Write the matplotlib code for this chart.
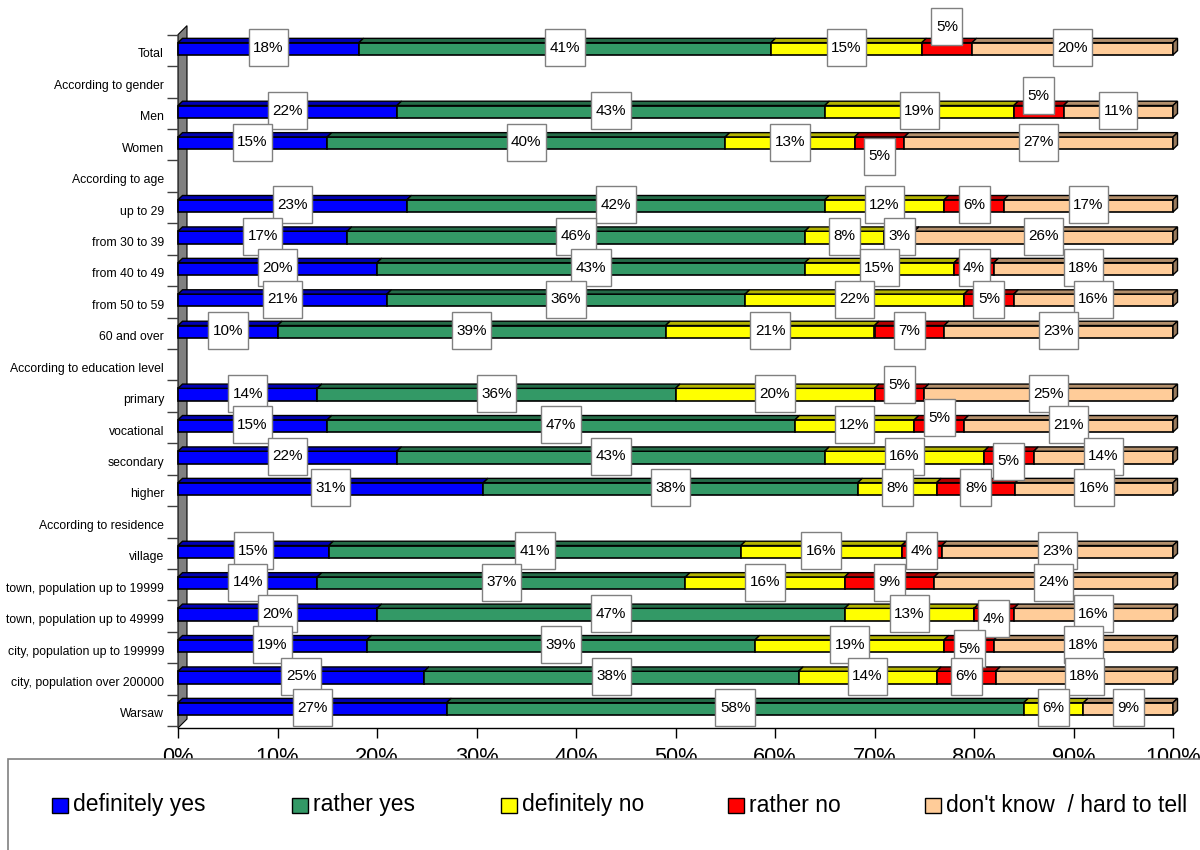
"""
Opinion poll results by social group, drawn as a 100% stacked
horizontal bar chart with a flat 3-D look (front face, top face,
right end face and a grey side wall).
"""

import numpy
from matplotlib import pyplot
from matplotlib.colors import to_rgb
from matplotlib.patches import Polygon, Rectangle
from matplotlib.transforms import ScaledTranslation

pyplot.rcParams['font.family'] = ['Liberation Sans', 'DejaVu Sans']

categories = ['Total', 'According to gender', 'Men', 'Women',
              'According to age', 'up to 29', 'from 30 to 39',
              'from 40 to 49', 'from 50 to 59', '60 and over',
              'According to education level', 'primary', 'vocational',
              'secondary', 'higher', 'According to residence', 'village',
              'town, population up to 19999', 'town, population up to 49999',
              'city, population up to 199999', 'city, population over 200000',
              'Warsaw']

answers = ['definitely yes', 'rather yes', 'definitely no', 'rather no',
           "don't know  / hard to tell"]

# one value per category, None for the section headers
definitely_yes = [18, None, 22, 15, None, 23, 17, 20, 21, 10,
                  None, 14, 15, 22, 31, None, 15, 14, 20, 19, 25, 27]
rather_yes = [41, None, 43, 40, None, 42, 46, 43, 36, 39,
              None, 36, 47, 43, 38, None, 41, 37, 47, 39, 38, 58]
definitely_no = [15, None, 19, 13, None, 12, 8, 15, 22, 21,
                 None, 20, 12, 16, 8, None, 16, 16, 13, 19, 14, 6]
rather_no = [5, None, 5, 5, None, 6, 3, 4, 5, 7,
             None, 5, 5, 5, 8, None, 4, 9, 4, 5, 6, 0]
dont_know = [20, None, 11, 27, None, 17, 26, 18, 16, 23,
             None, 25, 21, 14, 16, None, 23, 24, 16, 18, 18, 9]

colors = ['#0000ff', '#339966', '#ffff00', '#ff0000', '#ffcc99']

# labels that had to be moved off the bar (category, answer): pixels down
label_shift = {(0, 3): -22, (2, 3): -16, (3, 3): 13, (11, 3): -10,
               (12, 3): -8, (13, 3): 4, (18, 3): 4, (19, 3): 3}

series = [definitely_yes, rather_yes, definitely_no, rather_no, dont_know]

W, H = 1200, 850
DPI = 100
row_px = 31.43          # distance between two categories
face_px = 12.3          # height of the front face
depth_x, depth_y = 4.5, 4.3
wall_x, wall_y = 9.0, 9.0

fig = pyplot.figure(figsize=(W / DPI, H / DPI), dpi=DPI)
# axes placed so that 0-100 % spans x = 178..1173 px and the x-axis sits at y = 728 px
top_px, bottom_px = 10.0, 728.0
first_row_px = 48.8
ax = fig.add_axes([178 / W, 1 - bottom_px / H, 995 / W, (bottom_px - top_px) / H])
ymin = (top_px - first_row_px) / row_px
ymax = (bottom_px - first_row_px) / row_px
ax.set_xlim(0.0, 1.0)
ax.set_ylim(ymax, ymin)

dx = depth_x / 995
dy = depth_y / row_px
fh = face_px / row_px


def shade(color, factor):
    return tuple(c * factor for c in to_rgb(color))


# grey side wall behind the bars
wdx = wall_x / 995
wdy = wall_y / row_px
wall_top = -0.45
ax.add_patch(Polygon([(0, ymax), (wdx, ymax - wdy), (wdx, wall_top - wdy),
                      (0, wall_top)], closed=True, facecolor='#808080',
                     edgecolor='black', linewidth=0.8, zorder=1,
                     clip_on=False))

texts = []
for i, name in enumerate(categories):
    if definitely_yes[i] is None:
        continue
    values = numpy.array([s[i] for s in series], dtype=float)
    shares = values / values.sum()
    lefts = numpy.concatenate([[0.0], numpy.cumsum(shares)[:-1]])
    y0 = i - fh / 2
    for j, (left, width) in enumerate(zip(lefts, shares)):
        if width <= 0:
            continue
        ax.add_patch(Rectangle((left, y0), width, fh, facecolor=colors[j],
                               edgecolor='black', linewidth=1.2, zorder=3,
                               clip_on=False))
        ax.add_patch(Polygon([(left, y0), (left + width, y0),
                              (left + width + dx, y0 - dy), (left + dx, y0 - dy)],
                             closed=True, facecolor=shade(colors[j], 0.7),
                             edgecolor='black', linewidth=1.0, zorder=3,
                             clip_on=False))
        if j == len(series) - 1:
            ax.add_patch(Polygon([(1, y0), (1 + dx, y0 - dy),
                                  (1 + dx, y0 + fh - dy), (1, y0 + fh)],
                                 closed=True, facecolor=shade(colors[j], 0.6),
                                 edgecolor='black', linewidth=1.0, zorder=3,
                                 clip_on=False))
        shift = label_shift.get((i, j), -1) / row_px
        t = ax.text(left + width / 2, i + shift, '{:.0f}%'.format(values[j]),
                    ha='center', va='center', fontsize=11, zorder=7,
                    clip_on=False)
        texts.append(t)

# category axis: labels on rows, ticks on the boundaries
ax.set_yticks(numpy.arange(len(categories)))
ax.set_yticklabels(categories, fontsize=8.8)
ax.set_yticks(numpy.arange(len(categories) + 1) - 0.45, minor=True)
ax.tick_params(axis='y', which='major', length=0, pad=10)
ax.tick_params(axis='y', which='minor', length=8, width=1, color='#404040')
for label in ax.get_yticklabels():
    label.set_transform(label.get_transform() +
                        ScaledTranslation(0, -3 / 72, fig.dpi_scale_trans))

ax.set_xticks(numpy.linspace(0, 1, 11))
ax.set_xticklabels(['{}%'.format(v) for v in range(0, 101, 10)], fontsize=15.7)
ax.tick_params(axis='x', which='major', length=7.5, width=1, pad=6.5)
for side in ['left', 'right', 'top']:
    ax.spines[side].set_visible(False)
ax.spines['bottom'].set_linewidth(1.0)
ax.patch.set_visible(False)

# white boxes behind the value labels
fig.canvas.draw()
renderer = fig.canvas.get_renderer()
inv = ax.transData.inverted()
for t in texts:
    bb = t.get_window_extent(renderer)
    cx, cy = (bb.x0 + bb.x1) / 2, (bb.y0 + bb.y1) / 2
    bw, bh = bb.width + 9, 37
    (x0, y0), (x1, y1) = inv.transform([(cx - bw / 2, cy - bh / 2),
                                        (cx + bw / 2, cy + bh / 2)])
    ax.add_patch(Rectangle((x0, y0), x1 - x0, y1 - y0, facecolor='white',
                           edgecolor='#808080', linewidth=1.0, zorder=6,
                           clip_on=False))

# legend panel drawn over the lower part of the tick labels
fig.patches.append(Rectangle((8 / W, -0.05), 1.2, 1 - 759 / H + 0.05,
                             transform=fig.transFigure, facecolor='white',
                             edgecolor='#808080', linewidth=1.2, zorder=10))
legend_x = [52, 292, 501, 728, 925]
for x, name, color in zip(legend_x, answers, colors):
    fig.patches.append(Rectangle((x / W, 1 - 813 / H), 16 / W, 15 / H,
                                 transform=fig.transFigure, facecolor=color,
                                 edgecolor='black', linewidth=1.0, zorder=11))
    fig.text((x + 21) / W, 1 - 805 / H, name, fontsize=16.5, ha='left',
             va='center', zorder=12)

pyplot.savefig('out.png', dpi=DPI)
